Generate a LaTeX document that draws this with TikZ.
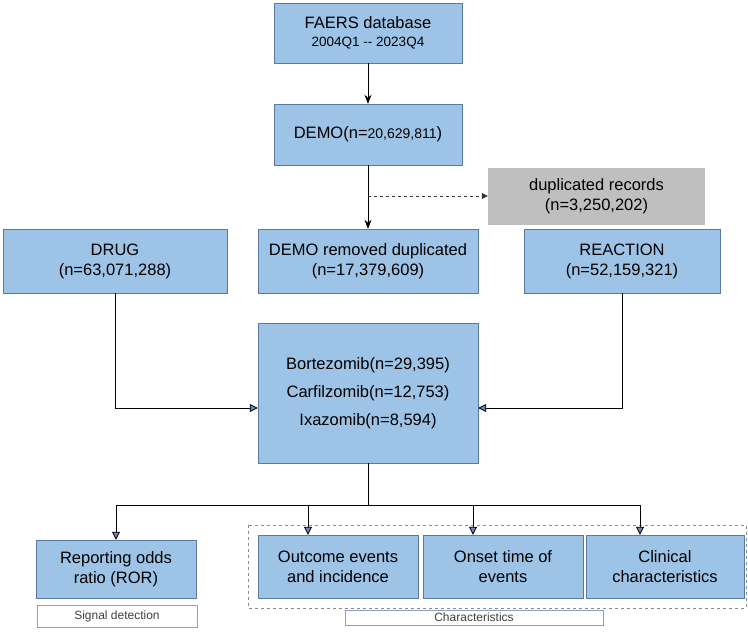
\documentclass[tikz,border=0pt]{standalone}
\usepackage{fontspec}
\setmainfont{Liberation Sans}
\usetikzlibrary{arrows.meta}
\definecolor{boxblue}{RGB}{157,195,230}
\definecolor{boxedge}{RGB}{90,120,160}
\definecolor{dupgray}{RGB}{191,191,191}
\definecolor{tipblue}{RGB}{47,85,151}
\tikzset{
  box/.style={draw=boxedge,fill=boxblue,align=center,inner sep=0pt,font=\fontsize{16.5}{20}\selectfont},
  tag/.style={draw=boxedge!70,fill=white,inner sep=0pt,font=\fontsize{12}{14}\selectfont,text=black!75},
  link/.style={-{Stealth[length=9pt,width=7pt]},thick},
  branch/.style={-{Triangle[length=8pt,width=8pt,fill=tipblue!70]},draw=black,thick}
}
\begin{document}
\begin{tikzpicture}[x=1pt,y=-1pt]
\useasboundingbox (0,0) rectangle (748,632);
\node[box,minimum width=188,minimum height=60] (faers) at (368,33) {FAERS database\\[-2pt]{\fontsize{13.5}{15}\selectfont 2004Q1 -{}- 2023Q4}};
\node[box,minimum width=188,minimum height=61] (demo) at (368,134.5) {DEMO(n={\fontsize{14}{15}\selectfont 20,629,811})};
\node[box,draw=none,fill=dupgray,minimum width=217,minimum height=57] (dup) at (596.5,196.5) {duplicated records\\(n=3,250,202)};
\node[box,minimum width=220,minimum height=64] (clean) at (368,261) {DEMO removed duplicated\\(n=17,379,609)};
\node[box,minimum width=224,minimum height=64] (drug) at (115,261) {DRUG\\(n=63,071,288)};
\node[box,minimum width=196,minimum height=64] (reac) at (622,261) {REACTION\\(n=52,159,321)};
\node[box,minimum width=220,minimum height=140] (prot) at (368,393) {Bortezomib(n=29,395)\\[8pt]Carfilzomib(n=12,753)\\[8pt]Ixazomib(n=8,594)};
\node[box,minimum width=160,minimum height=58] (ror) at (116,569) {Reporting odds\\ratio (ROR)};
\node[box,minimum width=160,minimum height=63] (outc) at (338,566.5) {Outcome events\\and incidence};
\node[box,minimum width=160,minimum height=63] (onset) at (503,566.5) {Onset time of\\events};
\node[box,minimum width=158,minimum height=63] (clin) at (665,566.5) {Clinical\\characteristics};
\draw[dashed,draw=black!45] (248,525) rectangle (746,608);
\node[tag,minimum width=160,minimum height=22] (sig) at (117,616) {Signal detection};
\node[tag,minimum width=258,minimum height=15] (chr) at (474,617.5) {Characteristics};
% main flow
\draw[link] (faers) -- (demo);
\draw[link] (demo) -- (clean);
\coordinate (split) at (368,196);
\draw[dashed,thick,-{Triangle[length=6pt,width=6pt]},draw=black!80] (split) -- (dup.west |- split);
\draw[branch] (drug.south) |- (prot.west |- 0,408);
\draw[branch] (reac.south) |- (prot.east |- 0,408);
% outputs
\coordinate (fork) at (368,505);
\draw[thick] (prot.south) -- (fork);
\draw[thick] (ror.north |- fork) -- (640,505);
\draw[branch] (ror.north |- fork) -- (ror.north);
\foreach \t/\x in {outc/308,onset/473,clin/640}
  \draw[branch] (\x,505) -- (\t.north -| \x,0);
\end{tikzpicture}
\end{document}
